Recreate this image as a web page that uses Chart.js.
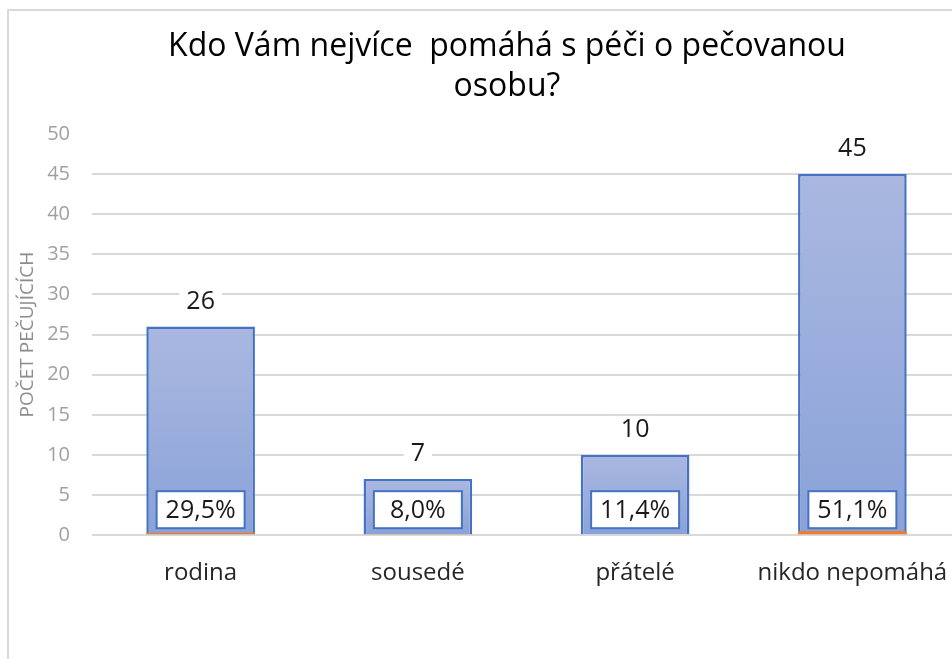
<!DOCTYPE html>
<html><head><meta charset="utf-8">
<script src="https://cdn.jsdelivr.net/npm/chart.js@4"></script>
<style>
html,body{margin:0;padding:0;background:#fff;overflow:hidden;width:952px;height:659px;}
#wrap{position:absolute;left:7px;top:9px;width:996px;height:648px;border-left:2px solid #d9d9d9;border-top:2px solid #d9d9d9;}
canvas{display:block;}
</style></head>
<body>
<div id="wrap"><canvas id="c" width="996" height="648"></canvas></div>
<script>
const categories = ['rodina', 'sousedé', 'přátelé', 'nikdo nepomáhá'];
const counts = [26, 7, 10, 45];
const percents = [29.5, 8.0, 11.4, 51.1];
const shares = percents.map(p => p / 100);
const yTicks = [0, 5, 10, 15, 20, 25, 30, 35, 40, 45, 50];
const titleLines = ['Kdo Vám nejvíce  pomáhá s péči o pečovanou', 'osobu?'];
const axisTitle = 'POČET PEČUJÍCÍCH';

const LABEL_FONT = "'Open Sans', 'Noto Sans', sans-serif";

function barGradient(context) {
  const chart = context.chart;
  const y = chart.scales.y;
  if (!y || context.raw == null) return '#9aade0';
  const top = y.getPixelForValue(context.raw);
  const base = y.getPixelForValue(0);
  if (!isFinite(top) || !isFinite(base) || top === base) return '#9aade0';
  const g = chart.ctx.createLinearGradient(0, top, 0, base);
  g.addColorStop(0, '#aab8e0');
  g.addColorStop(1, '#8aa2d8');
  return g;
}

const labelPlugin = {
  id: 'labelPlugin',
  afterDatasetsDraw(chart) {
    const ctx = chart.ctx;
    const y = chart.scales.y;
    const base = y.getPixelForValue(0);
    ctx.save();
    ctx.textAlign = 'center';
    ctx.textBaseline = 'middle';
    // count labels
    ctx.font = '25px ' + LABEL_FONT;
    chart.getDatasetMeta(0).data.forEach((bar, i) => {
      const txt = String(counts[i]);
      const w = ctx.measureText(txt).width;
      const cy = bar.y - 25;
      ctx.fillStyle = '#ffffff';
      ctx.fillRect(bar.x - w / 2 - 7, cy - 14, w + 14, 28);
      ctx.fillStyle = '#1a1a1a';
      ctx.fillText(txt, bar.x, cy);
    });
    // percent labels
    ctx.font = '25px ' + LABEL_FONT;
    chart.getDatasetMeta(1).data.forEach((bar, i) => {
      const txt = percents[i].toFixed(1).replace('.', ',') + '%';
      const bw = 88, bh = 37;
      const cx = bar.x, cy = base - 7 - bh / 2;
      ctx.fillStyle = '#ffffff';
      ctx.fillRect(cx - bw / 2, cy - bh / 2, bw, bh);
      ctx.strokeStyle = '#4472c4';
      ctx.lineWidth = 2;
      ctx.strokeRect(cx - bw / 2, cy - bh / 2, bw, bh);
      ctx.fillStyle = '#1a1a1a';
      ctx.fillText(txt, cx, cy + 1);
    });
    ctx.restore();
  }
};

new Chart(document.getElementById('c'), {
  type: 'bar',
  data: {
    labels: categories,
    datasets: [
      {
        label: 'Počet',
        data: counts,
        backgroundColor: barGradient,
        borderColor: '#4472c4',
        borderWidth: 2.5,
        grouped: false,
        order: 2
      },
      {
        label: 'Podíl',
        data: shares,
        backgroundColor: '#ed7d31',
        borderWidth: 0,
        grouped: false,
        order: 1
      }
    ]
  },
  options: {
    responsive: false,
    animation: false,
    events: [],
    datasets: { bar: { categoryPercentage: 1, barPercentage: 0.5 } },
    layout: { padding: { left: 0, right: 0, top: 0, bottom: 47 } },
    plugins: {
      legend: { display: false },
      tooltip: { enabled: false },
      title: {
        display: true,
        text: titleLines,
        color: '#000000',
        font: { family: LABEL_FONT, size: 32, weight: 'normal', lineHeight: 40 / 32 },
        padding: { top: 16, bottom: 27 }
      }
    },
    scales: {
      x: {
        grid: { display: false, drawTicks: false },
        border: { display: false },
        ticks: { color: '#262626', font: { family: LABEL_FONT, size: 24 }, padding: 24, maxRotation: 0, autoSkip: false }
      },
      y: {
        min: 0, max: 50,
        afterBuildTicks: (s) => { s.ticks = yTicks.map(v => ({ value: v })); },
        afterFit: (s) => { s.width = 83; },
        grid: {
          drawTicks: false,
          color: (c) => (c.tick && c.tick.value === 50) ? 'rgba(0,0,0,0)' : '#d9d9d9',
          lineWidth: 2
        },
        border: { display: false },
        ticks: { color: '#a0a0a0', font: { family: LABEL_FONT, size: 20 }, padding: 22 },
        title: {
          display: true,
          text: axisTitle,
          color: '#8c8c8c',
          font: { family: LABEL_FONT, size: 19 },
          padding: { top: 7, bottom: 0 }
        }
      },
      yRight: {
        position: 'right',
        min: 0, max: 50,
        display: true,
        afterFit: (s) => { s.width = 44; },
        grid: { display: false, drawTicks: false },
        border: { display: false },
        ticks: { display: false }
      }
    }
  },
  plugins: [labelPlugin]
});
</script>
</body></html>
